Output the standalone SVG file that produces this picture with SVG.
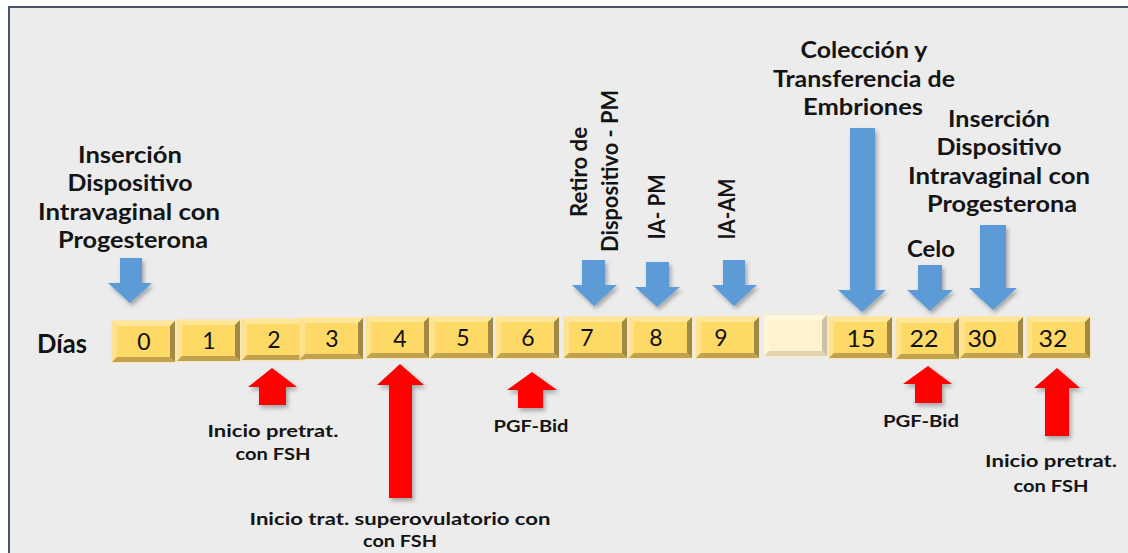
<svg xmlns="http://www.w3.org/2000/svg" xmlns:xlink="http://www.w3.org/1999/xlink" width="1128" height="553" viewBox="0 0 1128 553">
  <style>
    .lbl { font-family: Lato, "Open Sans", "Liberation Sans", sans-serif; font-weight: 700; font-size: 22px; fill: #141414; text-anchor: middle; }
    .sml { font-family: Lato, "Open Sans", "Liberation Sans", sans-serif; font-weight: 700; font-size: 17px; fill: #141414; text-anchor: middle; }
    .num { font-family: Lato, "Open Sans", "Liberation Sans", sans-serif; font-weight: 400; font-size: 23px; fill: #111; text-anchor: middle; }
    .dias { font-family: Lato, "Open Sans", "Liberation Sans", sans-serif; font-weight: 700; font-size: 26px; fill: #111; }
    .blue { fill: #5B9BD5; filter: url(#shadow); }
    .red { fill: #FF0000; filter: url(#shadow); }
  </style>
  <defs>
    <filter id="shadow" x="-30%" y="-30%" width="160%" height="160%">
      <feDropShadow dx="2" dy="3" stdDeviation="2" flood-color="#000" flood-opacity="0.3"/>
    </filter>
    <!-- bevelled day tile, 63 x 41 -->
    <g id="tile">
      <rect x="0" y="0" width="63" height="41" fill="#FFD966" stroke="#FFE08A" stroke-width="1"/>
      <polygon points="0,0 63,0 58,5 5,5" fill="#FFE699"/>
      <polygon points="0,0 5,5 5,36 0,41" fill="#FFE28F"/>
      <polygon points="63,0 63,41 58,36 58,5" fill="#A08845"/>
      <polygon points="0,41 63,41 58,36 5,36" fill="#C2A24E"/>
    </g>
    <g id="tile-blank">
      <rect x="0" y="0" width="63" height="41" fill="#FFF2CC" stroke="#FFE699" stroke-width="1"/>
      <polygon points="0,0 63,0 58,5 5,5" fill="#FFF7DE"/>
      <polygon points="0,0 5,5 5,36 0,41" fill="#FFF5D8"/>
      <polygon points="63,0 63,41 58,36 58,5" fill="#CCC2A3"/>
      <polygon points="0,41 63,41 58,36 5,36" fill="#E0D4B0"/>
    </g>
  </defs>

  <!-- page and frame -->
  <rect x="0" y="0" width="1128" height="553" fill="#FFFFFF"/>
  <rect x="9" y="7" width="1130" height="560" fill="#ECECEC" stroke="#46546A" stroke-width="2"/>

  <text class="dias" x="37" y="353" textLength="50" lengthAdjust="spacingAndGlyphs">Días</text>

  <!-- day tiles -->
  <g id="day-0"><use xlink:href="#tile" x="112" y="321"/><text class="num" x="144" y="350">0</text></g>
  <g id="day-1"><use xlink:href="#tile" x="177" y="320"/><text class="num" x="209" y="349">1</text></g>
  <g id="day-2"><use xlink:href="#tile" x="242" y="319"/><text class="num" x="274" y="348">2</text></g>
  <g id="day-3"><use xlink:href="#tile" x="300" y="318"/><text class="num" x="332" y="347">3</text></g>
  <g id="day-4"><use xlink:href="#tile" x="366" y="317"/><text class="num" x="400" y="347">4</text></g>
  <g id="day-5"><use xlink:href="#tile" x="430" y="317"/><text class="num" x="463" y="346">5</text></g>
  <g id="day-6"><use xlink:href="#tile" x="496" y="317"/><text class="num" x="528" y="346">6</text></g>
  <g id="day-7"><use xlink:href="#tile" x="564" y="317"/><text class="num" x="587" y="346">7</text></g>
  <g id="day-8"><use xlink:href="#tile" x="629" y="317"/><text class="num" x="656" y="346">8</text></g>
  <g id="day-9"><use xlink:href="#tile" x="696" y="317"/><text class="num" x="721" y="346">9</text></g>
  <g id="day-gap"><use xlink:href="#tile-blank" x="764" y="315"/></g>
  <g id="day-15"><use xlink:href="#tile" x="829" y="317"/><text class="num" x="861" y="347" textLength="29" lengthAdjust="spacingAndGlyphs">15</text></g>
  <g id="day-22"><use xlink:href="#tile" x="896" y="318"/><text class="num" x="924" y="347" textLength="29" lengthAdjust="spacingAndGlyphs">22</text></g>
  <g id="day-30"><use xlink:href="#tile" x="960" y="317"/><text class="num" x="982" y="347" textLength="29" lengthAdjust="spacingAndGlyphs">30</text></g>
  <g id="day-32"><use xlink:href="#tile" x="1027" y="317"/><text class="num" x="1053" y="347" textLength="29" lengthAdjust="spacingAndGlyphs">32</text></g>

  <!-- event arrows -->
  <g id="connectors">
    <polygon class="blue" points="120,258 142,258 142,283 152,283 130,303 108,283 120,283"/>
    <polygon class="blue" points="582,260 605,260 605,285 617,285 594,306 572,285 582,285"/>
    <polygon class="blue" points="646,262 669,262 669,287 680,287 657,307 635,287 646,287"/>
    <polygon class="blue" points="723,260 745,260 745,285 757,285 734,306 712,285 723,285"/>
    <polygon class="blue" points="850,128 875,128 875,290 886,290 862,312 838,290 850,290"/>
    <polygon class="blue" points="918,265 942,265 942,290 953,290 930,311 907,290 918,290"/>
    <polygon class="blue" points="980,225 1006,225 1006,288 1017,288 993,310 969,288 980,288"/>

    <polygon class="red" points="272,368 297,387 286,387 286,405 259,405 259,387 248,387"/>
    <polygon class="red" points="400,364 424,385 412,385 412,498 389,498 389,385 377,385"/>
    <polygon class="red" points="532,372 557,390 543,390 543,408 518,408 518,390 507,390"/>
    <polygon class="red" points="928,366 952,384 942,384 942,403 915,403 915,384 903,384"/>
    <polygon class="red" points="1057,368 1080,388 1069,388 1069,436 1045,436 1045,388 1034,388"/>
  </g>

  <!-- labels above the timeline -->
  <g id="label-insercion-0">
    <text class="lbl" x="130" y="163" textLength="104" lengthAdjust="spacingAndGlyphs">Inserción</text>
    <text class="lbl" x="130" y="191" textLength="125" lengthAdjust="spacingAndGlyphs">Dispositivo</text>
    <text class="lbl" x="129" y="220" textLength="182" lengthAdjust="spacingAndGlyphs">Intravaginal con</text>
    <text class="lbl" x="133" y="248" textLength="150" lengthAdjust="spacingAndGlyphs">Progesterona</text>
  </g>
  <g id="label-retiro">
    <text class="lbl" transform="translate(587,172) rotate(-90)" textLength="90" lengthAdjust="spacingAndGlyphs">Retiro de</text>
    <text class="lbl" transform="translate(618,171) rotate(-90)" textLength="162" lengthAdjust="spacingAndGlyphs">Dispositivo - PM</text>
  </g>
  <g id="label-ia-pm"><text class="lbl" transform="translate(665,207) rotate(-90)" textLength="65" lengthAdjust="spacingAndGlyphs">IA- PM</text></g>
  <g id="label-ia-am"><text class="lbl" transform="translate(735,209) rotate(-90)" textLength="61" lengthAdjust="spacingAndGlyphs">IA-AM</text></g>
  <g id="label-coleccion">
    <text class="lbl" x="864" y="58" textLength="127" lengthAdjust="spacingAndGlyphs">Colección y</text>
    <text class="lbl" x="864" y="87" textLength="182" lengthAdjust="spacingAndGlyphs">Transferencia de</text>
    <text class="lbl" x="863" y="115" textLength="120" lengthAdjust="spacingAndGlyphs">Embriones</text>
  </g>
  <g id="label-insercion-30">
    <text class="lbl" x="999" y="127" textLength="102" lengthAdjust="spacingAndGlyphs">Inserción</text>
    <text class="lbl" x="999" y="155" textLength="125" lengthAdjust="spacingAndGlyphs">Dispositivo</text>
    <text class="lbl" x="999" y="184" textLength="182" lengthAdjust="spacingAndGlyphs">Intravaginal con</text>
    <text class="lbl" x="1002" y="212" textLength="150" lengthAdjust="spacingAndGlyphs">Progesterona</text>
  </g>
  <g id="label-celo"><text class="lbl" x="931" y="257" textLength="48" lengthAdjust="spacingAndGlyphs">Celo</text></g>

  <!-- labels below the timeline -->
  <g id="label-pretrat-2">
    <text class="sml" x="273" y="437" textLength="131" lengthAdjust="spacingAndGlyphs">Inicio pretrat.</text>
    <text class="sml" x="273" y="460" textLength="75" lengthAdjust="spacingAndGlyphs">con FSH</text>
  </g>
  <g id="label-superov">
    <text class="sml" x="400" y="525" textLength="301" lengthAdjust="spacingAndGlyphs">Inicio trat. superovulatorio con</text>
    <text class="sml" x="400" y="547" textLength="74" lengthAdjust="spacingAndGlyphs">con FSH</text>
  </g>
  <g id="label-pgf-6"><text class="sml" x="531" y="432" textLength="75" lengthAdjust="spacingAndGlyphs">PGF-Bid</text></g>
  <g id="label-pgf-22"><text class="sml" x="921" y="427" textLength="76" lengthAdjust="spacingAndGlyphs">PGF-Bid</text></g>
  <g id="label-pretrat-32">
    <text class="sml" x="1051" y="467" textLength="132" lengthAdjust="spacingAndGlyphs">Inicio pretrat.</text>
    <text class="sml" x="1051" y="492" textLength="75" lengthAdjust="spacingAndGlyphs">con FSH</text>
  </g>
</svg>
